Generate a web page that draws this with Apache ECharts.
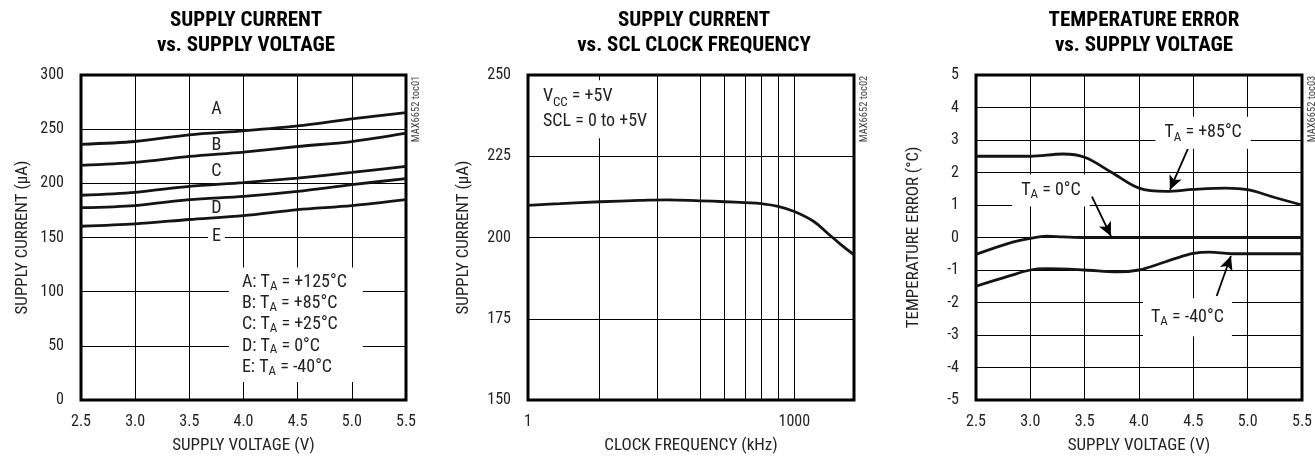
<!DOCTYPE html>
<html><head><meta charset="utf-8">
<script src="https://cdn.jsdelivr.net/npm/echarts@6/dist/echarts.min.js"></script>
<style>html,body{margin:0;padding:0;background:#fff}#c{width:1315px;height:459px}</style>
</head><body><div id="c"></div>
<script>
const FONT = "'Liberation Sans Narrow','Arial Narrow','Roboto Condensed',sans-serif";
const TXT = '#222';

// ---------- Chart 1: supply current vs supply voltage ----------
const voltage1 = [2.5, 3.0, 3.5, 4.0, 4.5, 5.0, 5.5];
const curA = [236, 238.6, 244.8, 248.5, 253, 259.5, 265.3];
const curB = [216.5, 219.3, 224.8, 228.9, 234, 238.6, 246.3];
const curC = [189, 191.7, 197.2, 200.6, 204.9, 210.1, 215.6];
const curD = [177.5, 179.5, 185, 188, 192.6, 198.8, 204.3];
const curE = [160.4, 162.6, 166.6, 170.2, 175.8, 179.5, 185];
const curveLetters = ['A', 'B', 'C', 'D', 'E'];
const letterLabelX = 3.75;
const letterLabelY = [268, 234.5, 210.5, 176.5, 151];
const legendNames = ['A', 'B', 'C', 'D', 'E'];
const legendTemps = ['+125°C', '+85°C', '+25°C', '0°C', '-40°C'];

// ---------- Chart 2: supply current vs SCL clock frequency ----------
const freq = [1, 2.3, 6.5, 18, 37, 87, 166, 278, 423, 655, 1000, 1640, 2350, 3320, 4630];
const cur2 = [209.9, 210.4, 211.0, 211.4, 211.6, 211.3, 211.0, 210.7, 210.4, 209.6, 208.0, 205.0, 201.4, 197.9, 194.8];
const freqGrid = [6.3, 28.5, 87, 162, 278, 423, 655, 1000];
const freqTickLabels = [1, 1000];

// ---------- Chart 3: temperature error vs supply voltage ----------
const err85 = [[2.5,2.5],[3.0,2.5],[3.3,2.57],[3.5,2.47],[3.75,2.0],[4.0,1.52],[4.25,1.42],[4.5,1.48],[4.8,1.52],[5.0,1.47],[5.25,1.23],[5.5,1.0]];
const err0 = [[2.5,-0.52],[2.8,-0.18],[3.0,-0.03],[3.15,0.04],[3.3,0.02],[3.5,0],[4.0,0],[5.5,0]];
const errM40 = [[2.5,-1.5],[2.8,-1.19],[3.0,-1.0],[3.15,-0.96],[3.5,-1.0],[3.8,-1.06],[4.0,-1.0],[4.17,-0.83],[4.33,-0.65],[4.5,-0.49],[4.65,-0.45],[4.85,-0.5],[5.0,-0.5],[5.5,-0.5]];

const chart = echarts.init(document.getElementById('c'));

const grids = [
  {left: 81, top: 75, width: 325, height: 326},
  {left: 528, top: 75, width: 326, height: 326},
  {left: 976, top: 75, width: 326, height: 326}
].map(g => Object.assign(g, {show: true, borderColor: '#000', borderWidth: 3, backgroundColor: 'transparent', containLabel: false}));

const axLabel = {color: TXT, fontFamily: FONT, fontSize: 16};
const nameStyle = {color: TXT, fontFamily: FONT, fontSize: 17};
const split = {show: true, lineStyle: {color: '#000', width: 1}};

function lineSeries(xi, yi, data, smooth) {
  return {type: 'line', xAxisIndex: xi, yAxisIndex: yi, data: data, showSymbol: false, smooth: smooth,
    lineStyle: {color: '#141414', width: 2.8}, silent: true, z: 6};
}

const series = [];
[curA, curB, curC, curD, curE].forEach(c => series.push(lineSeries(0, 0, voltage1.map((v, i) => [v, c[i]]), 0.3)));
series.push({type: 'line', xAxisIndex: 1, yAxisIndex: 1, data: [], silent: true, z: 1,
  markLine: {silent: true, symbol: 'none', label: {show: false}, lineStyle: {color: '#000', width: 1, type: 'solid'},
    data: freqGrid.map(f => ({xAxis: f}))}});
series.push(lineSeries(1, 1, freq.map((f, i) => [f, cur2[i]]), 0.4));
series.push(Object.assign(lineSeries(2, 2, err85, 0.35), {
  markLine: {silent: true, symbol: ['none', 'arrow'], symbolSize: [10, 14], label: {show: false},
    lineStyle: {color: '#000', width: 1.8, type: 'solid'},
    data: [
      [{coord: [4.45, 2.73]}, {coord: [4.285, 1.47]}],
      [{coord: [3.567, 1.26]}, {coord: [3.742, 0.04]}],
      [{coord: [4.715, -1.8]}, {coord: [4.846, -0.57]}]
    ]}
}));
series.push(lineSeries(2, 2, err0, 0.35));
series.push(lineSeries(2, 2, errM40, 0.35));

const titleStyle = {fontFamily: FONT, fontSize: 21, fontWeight: 'bold', color: '#000', lineHeight: 25};

const option = {
  backgroundColor: '#fff',
  animation: false,
  title: [
    {text: 'SUPPLY CURRENT\nvs. SUPPLY VOLTAGE', left: 241, top: 3, textAlign: 'center', textStyle: titleStyle},
    {text: 'SUPPLY CURRENT\nvs. SCL CLOCK FREQUENCY', left: 689, top: 3, textAlign: 'center', textStyle: titleStyle},
    {text: 'TEMPERATURE ERROR\nvs. SUPPLY VOLTAGE', left: 1139, top: 3, textAlign: 'center', textStyle: titleStyle}
  ],
  grid: grids,
  xAxis: [
    {type: 'value', gridIndex: 0, min: 2.5, max: 5.5, interval: 0.5, name: 'SUPPLY VOLTAGE (V)', nameLocation: 'middle', nameGap: 37,
      nameTextStyle: nameStyle, axisLine: {show: false}, axisTick: {show: false}, splitLine: split,
      axisLabel: Object.assign({margin: 14, formatter: v => v.toFixed(1)}, axLabel)},
    {type: 'log', logBase: 10, gridIndex: 1, min: 1, max: 4700, name: 'CLOCK FREQUENCY (kHz)', nameLocation: 'middle', nameGap: 37,
      nameTextStyle: nameStyle, axisLine: {show: false}, axisTick: {show: false}, splitLine: {show: false},
      axisLabel: Object.assign({margin: 14, showMaxLabel: false, formatter: v => freqTickLabels.indexOf(Math.round(v)) >= 0 ? String(Math.round(v)) : ''}, axLabel)},
    {type: 'value', gridIndex: 2, min: 2.5, max: 5.5, interval: 0.5, name: 'SUPPLY VOLTAGE (V)', nameLocation: 'middle', nameGap: 37,
      nameTextStyle: nameStyle, axisLine: {show: false}, axisTick: {show: false}, splitLine: split,
      axisLabel: Object.assign({margin: 14, formatter: v => v.toFixed(1)}, axLabel)}
  ],
  yAxis: [
    {type: 'value', gridIndex: 0, min: 0, max: 300, interval: 50, name: 'SUPPLY CURRENT (μA)', nameLocation: 'middle', nameGap: 50,
      nameTextStyle: nameStyle, axisLine: {show: false}, axisTick: {show: false}, splitLine: split,
      axisLabel: Object.assign({margin: 17}, axLabel)},
    {type: 'value', gridIndex: 1, min: 150, max: 250, interval: 25, name: 'SUPPLY CURRENT (μA)', nameLocation: 'middle', nameGap: 56,
      nameTextStyle: nameStyle, axisLine: {show: false}, axisTick: {show: false}, splitLine: split,
      axisLabel: Object.assign({margin: 17}, axLabel)},
    {type: 'value', gridIndex: 2, min: -5, max: 5, interval: 1, name: 'TEMPERATURE ERROR (°C)', nameLocation: 'middle', nameGap: 54,
      nameTextStyle: nameStyle, axisLine: {show: false}, axisTick: {show: false}, splitLine: split,
      axisLabel: Object.assign({margin: 17}, axLabel)}
  ],
  series: series
};
chart.setOption(option);

// ---------- annotations: white-backed text placed through the axes ----------
function richStyle(lh) {
  return {
    n: {fontFamily: FONT, fontSize: 18, fill: TXT, lineHeight: lh, verticalAlign: 'middle'},
    s: {fontFamily: FONT, fontSize: 13, fill: TXT, lineHeight: 13, verticalAlign: 'bottom'}
  };
}
const annotations = [];
curveLetters.forEach((l, i) => annotations.push({g: 0, at: [letterLabelX, letterLabelY[i]], text: '{n|' + l + '}', pad: [0, 4, 0, 4], lh: 14, under: true}));
annotations.push({g: 0, at: [3.865, 69.5], align: 'left', lh: 21.3, pad: [4, 16, 4, 13],
  text: legendNames.map((n, i) => '{n|' + n + ': T}{s|A}{n| = ' + legendTemps[i] + '}').join('\n')});
annotations.push({g: 1, at: [1.26, 239.5], align: 'left', lh: 25, pad: [4, 8, 4, 6],
  text: '{n|V}{s|CC}{n| = +5V}\n{n|SCL = 0 to +5V}'});
annotations.push({g: 2, at: [4.59, 3.22], text: '{n|T}{s|A}{n| = +85°C}', pad: [5, 9, 5, 9]});
annotations.push({g: 2, at: [3.19, 1.45], text: '{n|T}{s|A}{n| = 0°C}', pad: [5, 9, 5, 9]});
annotations.push({g: 2, at: [4.446, -2.45], text: '{n|T}{s|A}{n| = -40°C}', pad: [8, 8, 8, 8]});

const graphics = annotations.map(a => {
  const p = chart.convertToPixel({gridIndex: a.g}, a.at);
  return {type: 'text', x: p[0], y: p[1], zlevel: a.under ? 0 : 3, z: a.under ? 3 : 100, silent: true,
    style: {text: a.text, rich: richStyle(a.lh || 22), align: a.align || 'center', verticalAlign: 'middle',
      backgroundColor: '#fff', padding: a.pad}};
});
['MAX6652 toc01', 'MAX6652 toc02', 'MAX6652 toc03'].forEach((t, i) => {
  const p = chart.convertToPixel({gridIndex: i}, [i === 1 ? 4700 : 5.5, i === 0 ? 300 : (i === 1 ? 250 : 5)]);
  graphics.push({type: 'text', x: p[0] + 10, y: p[1] + 34, rotation: Math.PI / 2, silent: true,
    style: {text: t, font: '10.5px ' + FONT, fill: '#444', align: 'center', verticalAlign: 'middle'}});
});
chart.setOption({graphic: graphics});
</script></body></html>
